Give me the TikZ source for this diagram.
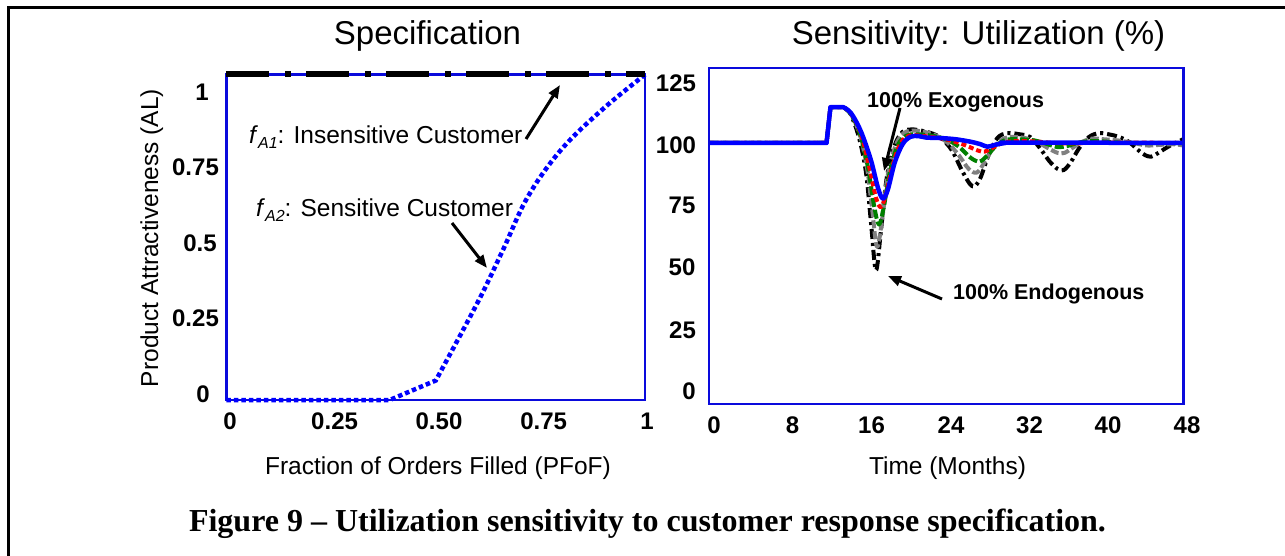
\documentclass[tikz,border=0pt]{standalone}
\usepackage{fontspec}
\setmainfont{Liberation Sans}
\newfontfamily\capfont{Liberation Serif}
\usetikzlibrary{arrows.meta}
\definecolor{boxblue}{RGB}{10,10,220}
\definecolor{curveblue}{RGB}{0,0,255}
\definecolor{cgreen}{RGB}{0,128,0}
\definecolor{cgray}{RGB}{128,128,128}
\definecolor{cred}{RGB}{255,0,0}
\begin{document}
\begin{tikzpicture}[x=1pt,y=-1pt,
  ticklab/.style={font=\fontsize{24}{26}\selectfont\bfseries, inner sep=0pt},
  plottitle/.style={font=\fontsize{33}{36}\selectfont, inner sep=0pt, anchor=base},
  axtitle/.style={font=\fontsize{24.5}{26}\selectfont, inner sep=0pt, anchor=base},
  note/.style={font=\fontsize{24.5}{26}\selectfont, inner sep=0pt, anchor=base west},
  bnote/.style={font=\fontsize{21.5}{23}\selectfont\bfseries, inner sep=0pt, anchor=base west},
  arr/.style={line width=3pt, -{Triangle[length=13pt,width=10pt]}},
  plotbox/.style={draw=boxblue, line width=2.3pt},
  curve/.style={line width=4pt, line join=round}
]
\useasboundingbox (0,0) rectangle (1285,556);
\fill[white] (0,0) rectangle (1285,556);
% outer frame
\draw[line width=2.6pt] (8.7,560) -- (8.7,7.8) -- (1290,7.8);

% ---------------- left plot ----------------
\begin{scope}[shift={(226.4,400)}, x=418.8pt, y=325.5pt]
  \draw[plotbox] (0,0) rectangle (1,1);
  \draw[curveblue, line width=4.5pt, dash pattern=on 4.5pt off 3pt]
    (0,0) -- (0.39,0) -- (0.5,0.06) -- plot[smooth, tension=0.6] coordinates
    {(0.5,0.06) (0.6,0.3) (0.66,0.46) (0.72,0.625) (0.8,0.77) (0.9,0.895) (1,1)};
  \draw[line width=6pt, dash pattern=on 43pt off 16pt on 6pt off 15pt] (0,1) -- (1,1);
\end{scope}

\node[plottitle] (t1) at (427.5,45) {Specification};
\node[ticklab] (ly1) at (202,92.5) {1};
\node[ticklab] (ly2) at (195.5,167.5) {0.75};
\node[ticklab] (ly3) at (200,243) {0.5};
\node[ticklab] (ly4) at (195.5,318) {0.25};
\node[ticklab] (ly5) at (203,394) {0};
\node[ticklab] (lx1) at (230,421) {0};
\node[ticklab] (lx2) at (334.6,421) {0.25};
\node[ticklab] (lx3) at (439,421) {0.50};
\node[ticklab] (lx4) at (543.6,421) {0.75};
\node[ticklab] (lx5) at (647,421) {1};
\node[axtitle] (lxt) at (438,474) {Fraction of Orders Filled (PFoF)};
\node[axtitle, rotate=90] (lyt) at (158,238) {Product Attractiveness (AL)};

\node[note] (n1) at (249,144) {\textit{f}\raisebox{-0.35ex}{\fontsize{16}{16}\selectfont\itshape A1}: Insensitive Customer};
\node[note] (n2) at (256,217) {\textit{f}\raisebox{-0.35ex}{\fontsize{16}{16}\selectfont\itshape A2}: Sensitive Customer};
\coordinate (a1s) at (526,139);
\coordinate (a1e) at (560,85);
\coordinate (a2s) at (452,223);
\coordinate (a2e) at (487,268);
\draw[arr] (a1s) -- (a1e);
\draw[arr] (a2s) -- (a2e);

% ---------------- right plot ----------------
\begin{scope}[shift={(709,390)}, x=9.875pt, y=2.47pt]
  % black dash-dot
  \draw[curve, black, dash pattern=on 10pt off 4pt on 3pt off 4pt]
    (0,100) -- (11.9,100) -- (12.3,114.5) -- (13.6,114.5) -- plot[smooth, tension=0.55] coordinates
    {(13.6,114.5) (14.3,112) (15.2,102) (15.9,88) (16.4,68) (16.9,48.5) (17.4,64) (18.0,86) (18.8,99) (19.6,104.5) (20.5,105.5) (21.5,105) (22.5,104) (23.5,102) (24.6,97) (25.6,89) (26.4,83.5) (26.9,82.5) (27.5,86) (28.3,95) (29.2,102) (30.2,104) (31.5,103.5) (32.5,102.5) (33.5,98) (34.5,92.5) (35.3,89.5) (35.9,89) (36.6,92) (37.5,98) (38.5,102.5) (39.5,104) (40.5,103.5) (41.5,102.5) (42.5,100.5) (43.5,97) (44.2,95) (44.8,94.5) (45.5,96) (46.5,98.5) (47.5,100.5) (48,101.5)};
  % gray dashed
  \draw[curve, cgray, dash pattern=on 8pt off 3pt]
    (0,100) -- (11.9,100) -- (12.3,114.5) -- (13.6,114.5) -- plot[smooth, tension=0.55] coordinates
    {(13.6,114.5) (14.4,111.5) (15.3,103) (16.0,90) (16.5,74) (17.0,58) (17.5,68) (18.1,87) (18.9,99) (19.7,104) (20.6,105) (21.8,104.5) (23,103) (24.2,100) (25.3,95) (26.3,89.5) (27.1,88) (27.8,91.5) (28.7,97.5) (29.7,101.5) (30.8,102.5) (32,102) (33.2,100.5) (34.3,98) (35.3,96) (36,96) (36.8,98) (37.8,100.5) (38.8,101.8) (40,101.5) (41.5,101) (43,100) (44.3,99) (45.5,99.2) (47,99.5) (48,99)};
  % green dashed
  \draw[curve, cgreen, dash pattern=on 9pt off 3pt]
    (0,100) -- (11.9,100) -- (12.3,114.5) -- (13.6,114.5) -- plot[smooth, tension=0.55] coordinates
    {(13.6,114.5) (14.4,111.5) (15.3,103.5) (16.1,90) (16.7,75) (17.2,67) (17.7,74) (18.3,88) (19.1,99) (20,103) (21,103.5) (22.5,103) (24,101.5) (25.3,98.5) (26.5,94) (27.4,92.5) (28.2,95) (29.1,99) (30.1,101.3) (31.5,101.5) (33,101) (34.3,99.5) (35.3,98.3) (36.3,98.8) (37.5,100.2) (39,100.8) (41,100.3) (43,100) (48,100)};
  % red dashed
  \draw[curve, cred, dash pattern=on 5pt off 3pt]
    (0,100) -- (11.9,100) -- (12.3,114.5) -- (13.6,114.5) -- plot[smooth, tension=0.55] coordinates
    {(13.6,114.5) (14.4,111.8) (15.4,103.5) (16.3,89) (16.9,78) (17.4,74) (17.9,79) (18.6,91) (19.4,100) (20.3,103) (21.3,103) (23,102.2) (24.5,101) (26,99) (27.2,97) (27.9,96.5) (28.7,98) (29.7,100) (31,100.8) (33,100.6) (35,100) (37,99.8) (40,100.2) (48,100)};
  % blue solid
  \draw[curve, curveblue, line width=4.5pt]
    (0,100) -- (11.9,100) -- (12.3,114.5) -- (13.6,114.5) -- plot[smooth, tension=0.55] coordinates
    {(13.6,114.5) (14.4,112) (15.4,104.5) (16.4,93) (17.1,82) (17.6,77.5) (18.1,81) (18.8,92) (19.6,99.5) (20.4,102.5) (21.2,102.8) (22,102.2) (23.5,102) (25,101.5) (26.5,100.5) (27.5,99.5) (28.2,98.5) (29,99.3) (30,100) (31,100.2) (48,100)};
\end{scope}
\draw[plotbox] (709,68) rectangle (1183.5,404);

\node[plottitle] (t2) at (978.5,45) {Sensitivity: Utilization (\%)};
\node[ticklab] (ry1) at (676,83.5) {125};
\node[ticklab] (ry2) at (676,145) {100};
\node[ticklab] (ry3) at (682,205) {75};
\node[ticklab] (ry4) at (682,267) {50};
\node[ticklab] (ry5) at (682.5,330) {25};
\node[ticklab] (ry6) at (689,391.5) {0};
\node[ticklab] (rx1) at (714,425) {0};
\node[ticklab] (rx2) at (792.5,425) {8};
\node[ticklab] (rx3) at (871.5,425) {16};
\node[ticklab] (rx4) at (951,425) {24};
\node[ticklab] (rx5) at (1029.5,425) {32};
\node[ticklab] (rx6) at (1108,425) {40};
\node[ticklab] (rx7) at (1187,425) {48};
\node[axtitle] (rxt) at (947.5,474) {Time (Months)};

\node[bnote] (exo) at (867,108) {100\% Exogenous};
\node[bnote] (endo) at (953,299.5) {100\% Endogenous};
\coordinate (a3s) at (900,108);
\coordinate (a3e) at (884,171);
\coordinate (a4s) at (942,299);
\coordinate (a4e) at (888,276);
\draw[arr] (a3s) -- (a3e);
\draw[arr] (a4s) -- (a4e);

% caption
\node[font=\fontsize{32}{34}\selectfont\capfont\bfseries, inner sep=0pt, anchor=base] (cap) at (647.5,531)
  {Figure 9 – Utilization sensitivity to customer response specification.};
\end{tikzpicture}
\end{document}
